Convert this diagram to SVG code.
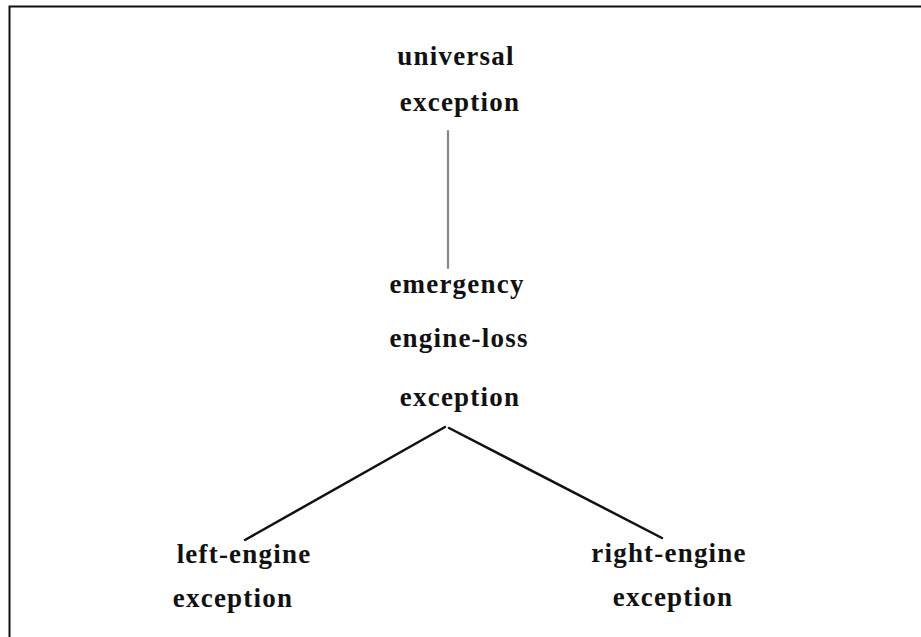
<svg xmlns="http://www.w3.org/2000/svg" width="921" height="637" viewBox="0 0 921 637">
<style>
text{font-family:"Liberation Serif","Times New Roman",serif;font-weight:bold;font-size:27px;letter-spacing:1.2px;fill:#111;text-anchor:middle}
.edge{stroke:#111;stroke-width:2.5;fill:none;stroke-linecap:round}
.gray{stroke:#888;stroke-width:2.2}
</style>
<rect x="0" y="0" width="921" height="637" fill="#fff"/>
<path d="M9.5 637 V6.5 H921" fill="none" stroke="#111" stroke-width="2"/>
<g id="connectors">
<line class="edge gray" x1="448" y1="131" x2="448" y2="268"/>
<line class="edge" x1="445" y1="427" x2="245" y2="540"/>
<line class="edge" x1="449" y1="428" x2="662" y2="538"/>
</g>
<g id="universal">
<text x="456" y="65">universal</text>
<text x="460" y="111">exception</text>
</g>
<g id="emergency">
<text x="457" y="293">emergency</text>
<text x="459" y="347">engine-loss</text>
<text x="460" y="406">exception</text>
</g>
<g id="left-engine">
<text x="244" y="563">left-engine</text>
<text x="233" y="607">exception</text>
</g>
<g id="right-engine">
<text x="669" y="562">right-engine</text>
<text x="673" y="606">exception</text>
</g>
</svg>
